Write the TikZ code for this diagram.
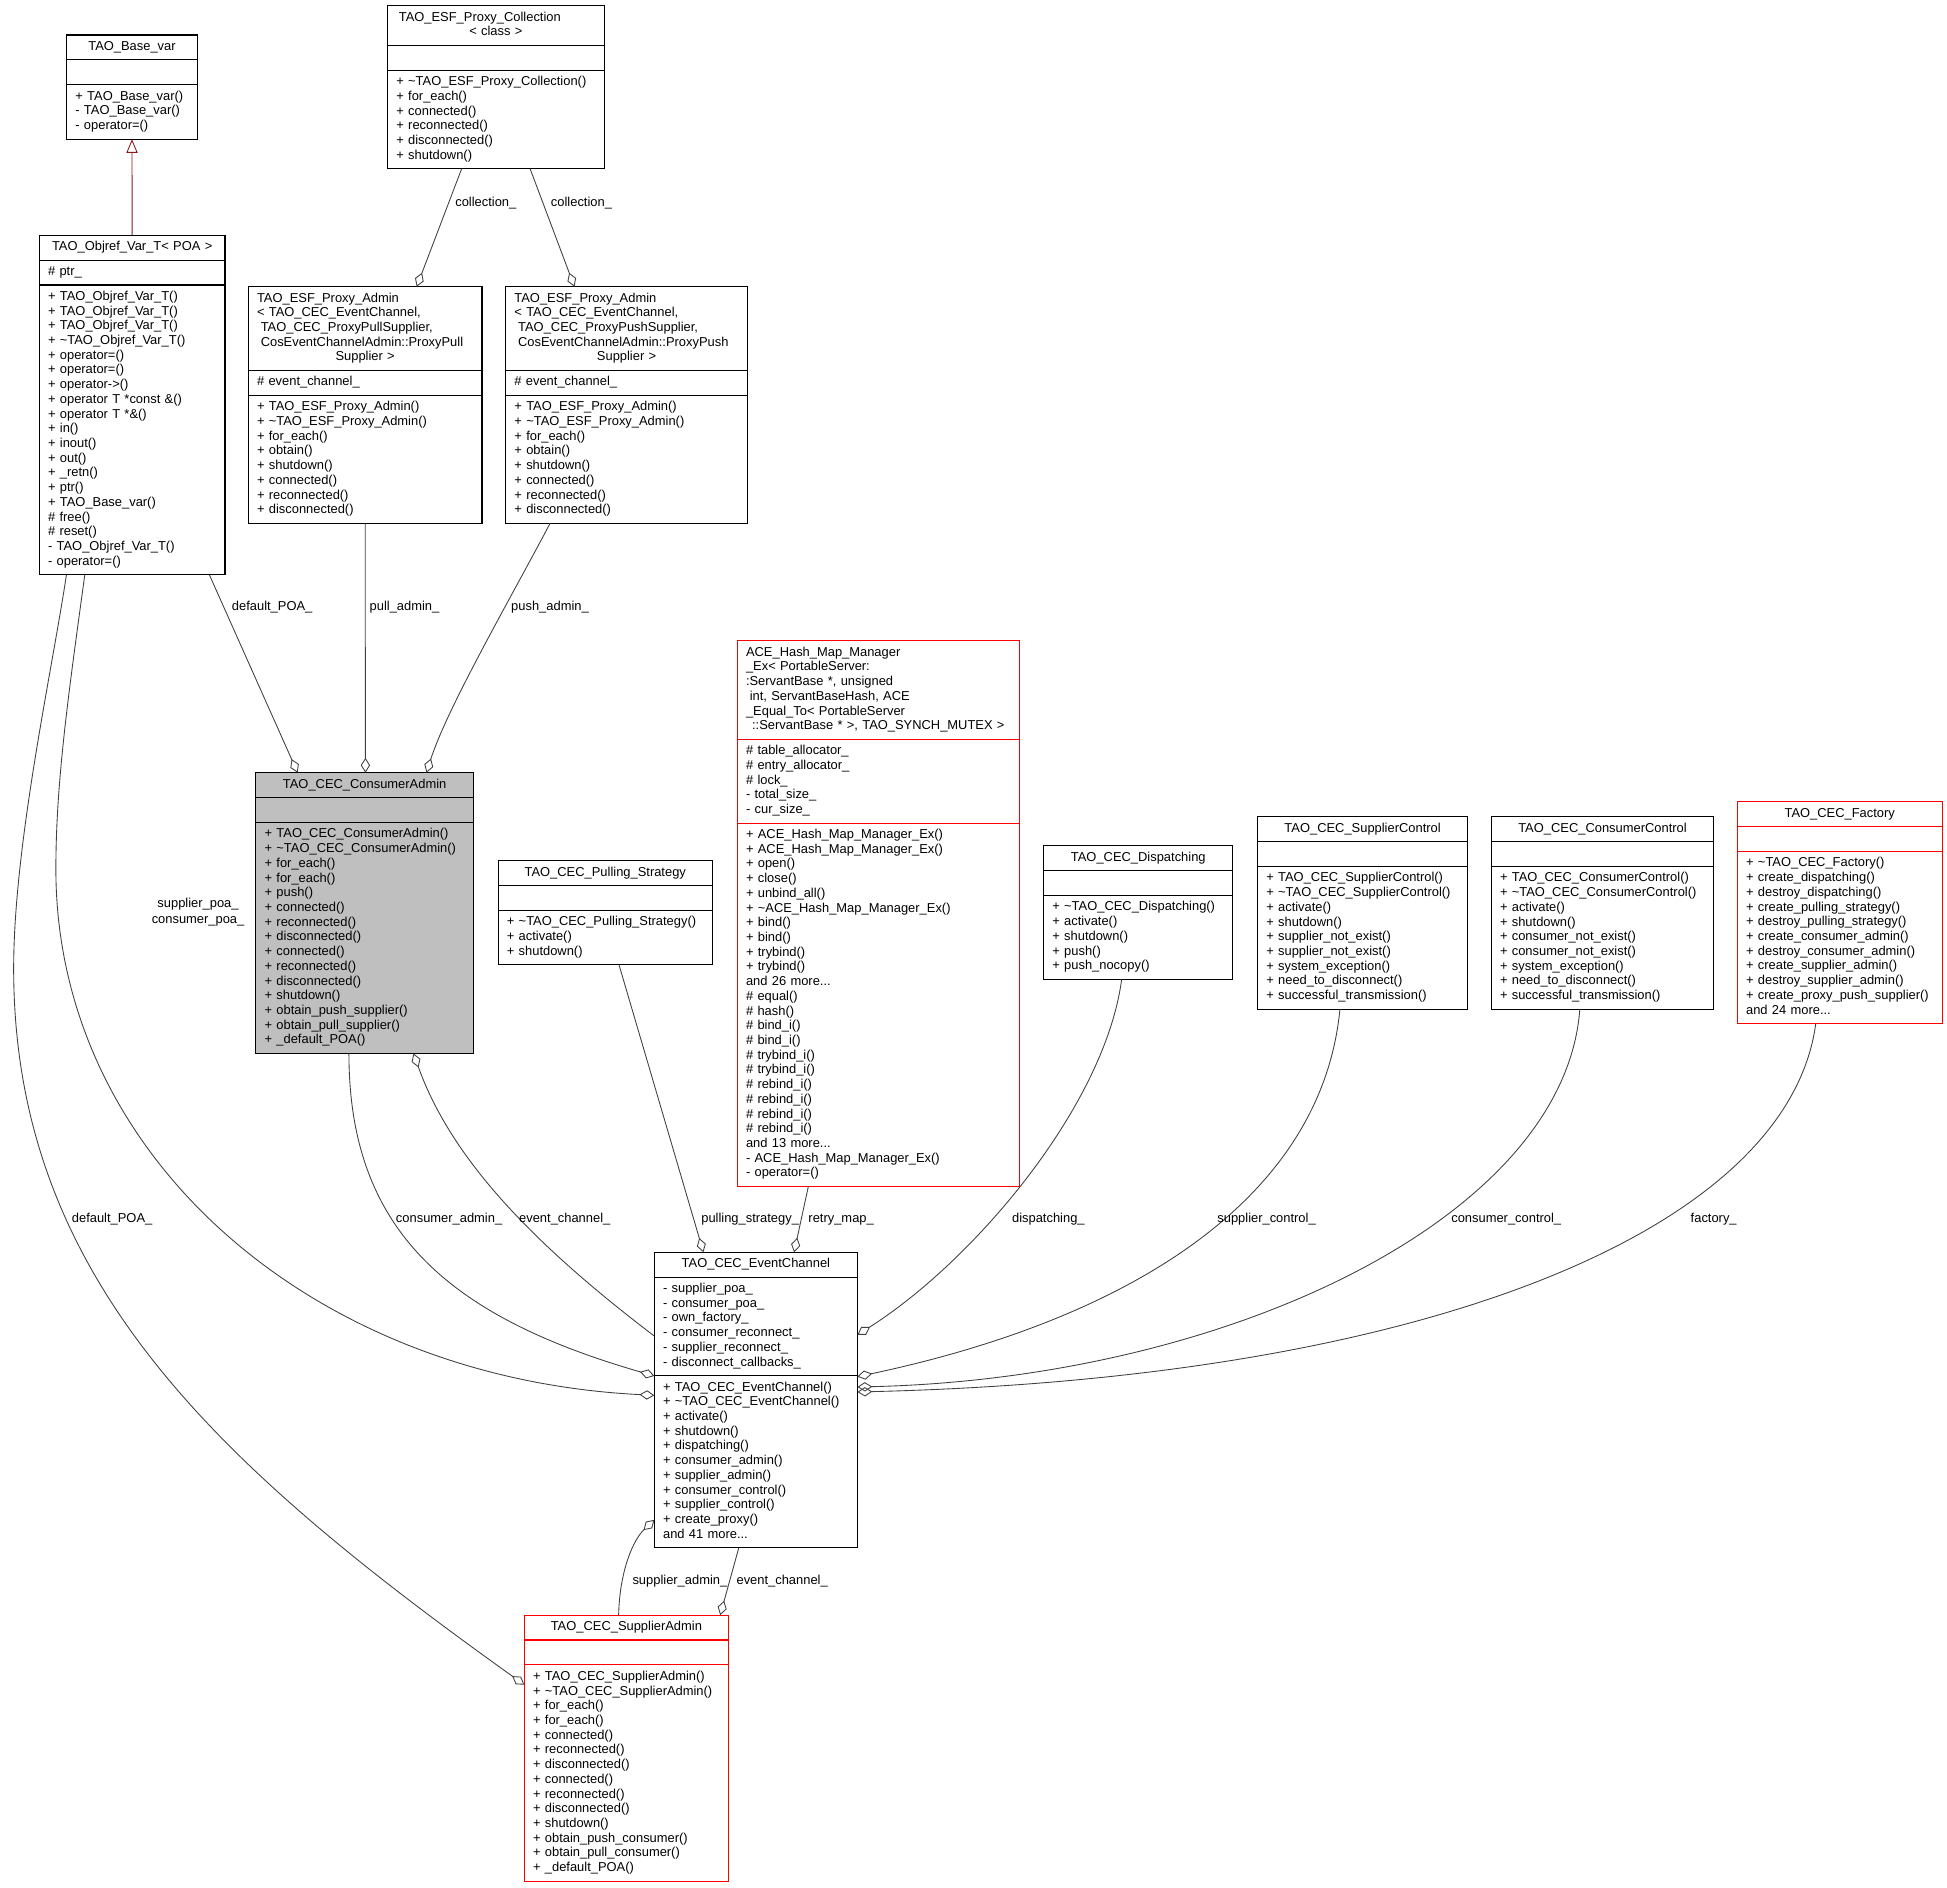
\documentclass[tikz,border=0pt]{standalone}
\usepackage{fontspec}
\setmainfont{Liberation Sans}
\usetikzlibrary{positioning,arrows.meta}
\definecolor{edgegrey}{HTML}{404040}
\definecolor{inhred}{HTML}{8B1A1A}
\begin{document}
\begin{tikzpicture}[x=1pt,y=-1pt,
        every node/.style={font=\fontsize{10.4}{11.85}\selectfont},
        cname/.style={draw,line width=0.9pt,align=center,inner xsep=7pt,inner ysep=4.1pt,
                      outer sep=0pt,execute at begin node=\strut,execute at end node=\strut},
        cpart/.style={cname,align=left},
        redbox/.style={draw=red},
        focus/.style={fill=black!25},
        member/.style={edgegrey,line width=0.7pt,-{Diamond[open,length=12pt,width=7.5pt]}},
        inherit/.style={inhred,line width=0.7pt,-{Triangle[open,length=11pt,width=9pt]}},
        lbl/.style={anchor=base west,inner sep=0pt}]
    \useasboundingbox (0,0) rectangle (1568,1520);

    % Define classes
    \node[cname,text width=91.2pt,anchor=north west] (basevar) at (53.7,28.2) {TAO\_Base\_var};
    \node[cpart,text width=91.2pt,below=0pt of basevar] (basevar-a) {};
    \node[cpart,text width=91.2pt,below=0pt of basevar-a] (basevar-m)
        {+ TAO\_Base\_var()\\- TAO\_Base\_var()\\- operator=()};

    \node[cname,text width=135.5pt,anchor=north west] (objref) at (31.7,189.4) {TAO\_Objref\_Var\_T< POA >};
    \node[cpart,text width=135.5pt,below=0pt of objref] (objref-a) {\# ptr\_};
    \node[cpart,text width=135.5pt,below=0pt of objref-a] (objref-m)
        {+ TAO\_Objref\_Var\_T()\\+ TAO\_Objref\_Var\_T()\\+ TAO\_Objref\_Var\_T()\\
         + \textasciitilde TAO\_Objref\_Var\_T()\\+ operator=()\\+ operator=()\\
         + operator->()\\+ operator T *const \&()\\+ operator T *\&()\\+ in()\\
         + inout()\\+ out()\\+ \_retn()\\+ ptr()\\+ TAO\_Base\_var()\\\# free()\\
         \# reset()\\- TAO\_Objref\_Var\_T()\\- operator=()};

    \node[cpart,text width=160.3pt,anchor=north west] (coll) at (312.2,4.6)
        {\hspace*{2pt}TAO\_ESF\_Proxy\_Collection\\\makebox[\linewidth]{< class >}};
    \node[cpart,text width=160.3pt,below=0pt of coll] (coll-a) {};
    \node[cpart,text width=160.3pt,below=0pt of coll-a] (coll-m)
        {+ \textasciitilde TAO\_ESF\_Proxy\_Collection()\\+ for\_each()\\+ connected()\\
         + reconnected()\\+ disconnected()\\+ shutdown()};

    \node[cpart,text width=174.2pt,anchor=north west] (pulladm) at (200,230.9)
        {TAO\_ESF\_Proxy\_Admin\\< TAO\_CEC\_EventChannel,\\\hspace*{3pt}TAO\_CEC\_ProxyPullSupplier,\\
         \hspace*{3pt}CosEventChannelAdmin::ProxyPull\\\makebox[\linewidth]{Supplier >}};
    \node[cpart,text width=174.2pt,below=0pt of pulladm] (pulladm-a) {\# event\_channel\_};
    \node[cpart,text width=174.2pt,below=0pt of pulladm-a] (pulladm-m)
        {+ TAO\_ESF\_Proxy\_Admin()\\+ \textasciitilde TAO\_ESF\_Proxy\_Admin()\\+ for\_each()\\
         + obtain()\\+ shutdown()\\+ connected()\\+ reconnected()\\+ disconnected()};

    \node[cpart,text width=180.6pt,anchor=north west] (pushadm) at (407.3,230.9)
        {TAO\_ESF\_Proxy\_Admin\\< TAO\_CEC\_EventChannel,\\\hspace*{3pt}TAO\_CEC\_ProxyPushSupplier,\\
         \hspace*{3pt}CosEventChannelAdmin::ProxyPush\\\makebox[\linewidth]{Supplier >}};
    \node[cpart,text width=180.6pt,below=0pt of pushadm] (pushadm-a) {\# event\_channel\_};
    \node[cpart,text width=180.6pt,below=0pt of pushadm-a] (pushadm-m)
        {+ TAO\_ESF\_Proxy\_Admin()\\+ \textasciitilde TAO\_ESF\_Proxy\_Admin()\\+ for\_each()\\
         + obtain()\\+ shutdown()\\+ connected()\\+ reconnected()\\+ disconnected()};

    \node[cname,focus,text width=161.1pt,anchor=north west] (conadm) at (206.1,622.3) {TAO\_CEC\_ConsumerAdmin};
    \node[cpart,focus,text width=161.1pt,below=0pt of conadm] (conadm-a) {};
    \node[cpart,focus,text width=161.1pt,below=0pt of conadm-a] (conadm-m)
        {+ TAO\_CEC\_ConsumerAdmin()\\+ \textasciitilde TAO\_CEC\_ConsumerAdmin()\\+ for\_each()\\
         + for\_each()\\+ push()\\+ connected()\\+ reconnected()\\+ disconnected()\\
         + connected()\\+ reconnected()\\+ disconnected()\\+ shutdown()\\
         + obtain\_push\_supplier()\\+ obtain\_pull\_supplier()\\+ \_default\_POA()};

    \node[cpart,redbox,text width=213.1pt,anchor=north west] (hashmap) at (593.8,516.1)
        {ACE\_Hash\_Map\_Manager\\\_Ex< PortableServer:\\:ServantBase *, unsigned\\
         \hspace*{3pt}int, ServantBaseHash, ACE\\\_Equal\_To< PortableServer\\
         \makebox[\linewidth]{::ServantBase * >, TAO\_SYNCH\_MUTEX >}};
    \node[cpart,redbox,text width=213.1pt,below=0pt of hashmap] (hashmap-a)
        {\# table\_allocator\_\\\# entry\_allocator\_\\\# lock\_\\- total\_size\_\\- cur\_size\_};
    \node[cpart,redbox,text width=213.1pt,below=0pt of hashmap-a] (hashmap-m)
        {+ ACE\_Hash\_Map\_Manager\_Ex()\\+ ACE\_Hash\_Map\_Manager\_Ex()\\+ open()\\+ close()\\
         + unbind\_all()\\+ \textasciitilde ACE\_Hash\_Map\_Manager\_Ex()\\+ bind()\\+ bind()\\
         + trybind()\\+ trybind()\\and 26 more...\\\# equal()\\\# hash()\\\# bind\_i()\\
         \# bind\_i()\\\# trybind\_i()\\\# trybind\_i()\\\# rebind\_i()\\\# rebind\_i()\\
         \# rebind\_i()\\\# rebind\_i()\\and 13 more...\\- ACE\_Hash\_Map\_Manager\_Ex()\\
         - operator=()};

    \node[cname,text width=158.5pt,anchor=north west] (pulling) at (401.2,693.1) {TAO\_CEC\_Pulling\_Strategy};
    \node[cpart,text width=158.5pt,below=0pt of pulling] (pulling-a) {};
    \node[cpart,text width=158.5pt,below=0pt of pulling-a] (pulling-m)
        {+ \textasciitilde TAO\_CEC\_Pulling\_Strategy()\\+ activate()\\+ shutdown()};

    \node[cname,text width=138.4pt,anchor=north west] (dispatch) at (840.5,681.1) {TAO\_CEC\_Dispatching};
    \node[cpart,text width=138.4pt,below=0pt of dispatch] (dispatch-a) {};
    \node[cpart,text width=138.4pt,below=0pt of dispatch-a] (dispatch-m)
        {+ \textasciitilde TAO\_CEC\_Dispatching()\\+ activate()\\+ shutdown()\\+ push()\\
         + push\_nocopy()};

    \node[cname,text width=155.1pt,anchor=north west] (supctl) at (1012.8,657.7) {TAO\_CEC\_SupplierControl};
    \node[cpart,text width=155.1pt,below=0pt of supctl] (supctl-a) {};
    \node[cpart,text width=155.1pt,below=0pt of supctl-a] (supctl-m)
        {+ TAO\_CEC\_SupplierControl()\\+ \textasciitilde TAO\_CEC\_SupplierControl()\\
         + activate()\\+ shutdown()\\+ supplier\_not\_exist()\\+ supplier\_not\_exist()\\
         + system\_exception()\\+ need\_to\_disconnect()\\+ successful\_transmission()};

    \node[cname,text width=165.1pt,anchor=north west] (conctl) at (1201,657.7) {TAO\_CEC\_ConsumerControl};
    \node[cpart,text width=165.1pt,below=0pt of conctl] (conctl-a) {};
    \node[cpart,text width=165.1pt,below=0pt of conctl-a] (conctl-m)
        {+ TAO\_CEC\_ConsumerControl()\\+ \textasciitilde TAO\_CEC\_ConsumerControl()\\
         + activate()\\+ shutdown()\\+ consumer\_not\_exist()\\+ consumer\_not\_exist()\\
         + system\_exception()\\+ need\_to\_disconnect()\\+ successful\_transmission()};

    \node[cname,redbox,text width=150.8pt,anchor=north west] (factory) at (1399.2,645.7) {TAO\_CEC\_Factory};
    \node[cpart,redbox,text width=150.8pt,below=0pt of factory] (factory-a) {};
    \node[cpart,redbox,text width=150.8pt,below=0pt of factory-a] (factory-m)
        {+ \textasciitilde TAO\_CEC\_Factory()\\+ create\_dispatching()\\+ destroy\_dispatching()\\
         + create\_pulling\_strategy()\\+ destroy\_pulling\_strategy()\\
         + create\_consumer\_admin()\\+ destroy\_consumer\_admin()\\
         + create\_supplier\_admin()\\+ destroy\_supplier\_admin()\\
         + create\_proxy\_push\_supplier()\\and 24 more...};

    \node[cname,text width=149.5pt,anchor=north west] (evch) at (527,1008.5) {TAO\_CEC\_EventChannel};
    \node[cpart,text width=149.5pt,below=0pt of evch] (evch-a)
        {- supplier\_poa\_\\- consumer\_poa\_\\- own\_factory\_\\- consumer\_reconnect\_\\
         - supplier\_reconnect\_\\- disconnect\_callbacks\_};
    \node[cpart,text width=149.5pt,below=0pt of evch-a] (evch-m)
        {+ TAO\_CEC\_EventChannel()\\+ \textasciitilde TAO\_CEC\_EventChannel()\\+ activate()\\
         + shutdown()\\+ dispatching()\\+ consumer\_admin()\\+ supplier\_admin()\\
         + consumer\_control()\\+ supplier\_control()\\+ create\_proxy()\\and 41 more...};

    \node[cname,redbox,text width=150.3pt,anchor=north west] (supadm) at (422.3,1300.7) {TAO\_CEC\_SupplierAdmin};
    \node[cpart,redbox,text width=150.3pt,below=0pt of supadm] (supadm-a) {};
    \node[cpart,redbox,text width=150.3pt,below=0pt of supadm-a] (supadm-m)
        {+ TAO\_CEC\_SupplierAdmin()\\+ \textasciitilde TAO\_CEC\_SupplierAdmin()\\+ for\_each()\\
         + for\_each()\\+ connected()\\+ reconnected()\\+ disconnected()\\+ connected()\\
         + reconnected()\\+ disconnected()\\+ shutdown()\\+ obtain\_push\_consumer()\\
         + obtain\_pull\_consumer()\\+ \_default\_POA()};

    % Connect classes
    \draw[inherit] (objref.north) -- (basevar-m.south);
    \draw[member] ([xshift=59.6pt]coll-m.south west) -- ([xshift=135.6pt]pulladm.north west);
    \draw[member] ([xshift=114.7pt]coll-m.south west) -- ([xshift=55.3pt]pushadm.north west);
    \draw[member] ([xshift=136.9pt]objref-m.south west) -- ([xshift=33.6pt]conadm.north west);
    \draw[member] (pulladm-m.south) -- ([xshift=88.2pt]conadm.north west);
    \draw[member] ([xshift=35.7pt]pushadm-m.south west) .. controls (415,475) and (360,570) .. ([xshift=137.4pt]conadm.north west);
    \draw[member] ([xshift=36.6pt]objref-m.south west) .. controls (55,560) and (45,630) .. (45,700)
        .. controls (45,930) and (250,1110) .. ([yshift=-115.2pt]evch.north west);
    \draw[member] ([xshift=21.8pt]objref-m.south west) .. controls (42,540) and (11,680) .. (11,780)
        .. controls (11,1030) and (175,1180) .. ([yshift=-56.1pt]supadm.north west);
    \draw[member] ([xshift=74.9pt]conadm-m.south west) .. controls (281,990) and (360,1060) .. ([yshift=-99.6pt]evch.north west);
    \draw[member] ([yshift=-67.5pt]evch.north west) .. controls (427,1000) and (363,932) .. ([xshift=126.9pt]conadm-m.south west);
    \draw[member] ([xshift=97.3pt]pulling-m.south west) -- ([xshift=39.5pt]evch.north west);
    \draw[member] ([xshift=57.2pt]hashmap-m.south west) -- ([xshift=112.5pt]evch.north west);
    \draw[member] ([xshift=62.8pt]dispatch-m.south west) .. controls (890,890) and (785,1015) .. ([yshift=-66.5pt]evch.north east);
    \draw[member] ([xshift=66.3pt]supctl-m.south west) .. controls (1065,960) and (920,1060) .. ([yshift=-100.2pt]evch.north east);
    \draw[member] ([xshift=71.3pt]conctl-m.south west) .. controls (1260,980) and (990,1110) .. ([yshift=-108.5pt]evch.north east);
    \draw[member] ([xshift=63.1pt]factory-m.south west) .. controls (1440,990) and (1150,1110) .. ([yshift=-112.5pt]evch.north east);
    \draw[member] ([xshift=75.9pt]supadm.north west) .. controls (499,1265) and (510,1240) .. ([yshift=-215.5pt]evch.north west);
    \draw[member] ([xshift=68pt]evch-m.south west) -- ([xshift=157.7pt]supadm.north west);

    % Edge labels
    \node[lbl] (lcoll1) at (366.5,166.1) {collection\_};
    \node[lbl] (lcoll2) at (443.5,166.1) {collection\_};
    \node[lbl] (lpoa1) at (186.6,492) {default\_POA\_};
    \node[lbl] (lpull) at (297.5,492) {pull\_admin\_};
    \node[lbl] (lpush) at (411.5,492) {push\_admin\_};
    \node[align=center,inner sep=0pt,font=\fontsize{10.4}{12.3}\selectfont] (lpoas) at (159.5,734.6)
        {supplier\_poa\_\\consumer\_poa\_};
    \node[lbl] (lpoa2) at (57.7,984.6) {default\_POA\_};
    \node[lbl] (lcadm) at (318.7,984.6) {consumer\_admin\_};
    \node[lbl] (levch1) at (417.9,984.6) {event\_channel\_};
    \node[lbl] (lpulls) at (564.6,984.6) {pulling\_strategy\_};
    \node[lbl] (lretry) at (650.9,984.6) {retry\_map\_};
    \node[lbl] (ldisp) at (814.9,984.6) {dispatching\_};
    \node[lbl] (lsupctl) at (980.2,984.6) {supplier\_control\_};
    \node[lbl] (lconctl) at (1168.6,984.6) {consumer\_control\_};
    \node[lbl] (lfact) at (1361.4,984.6) {factory\_};
    \node[lbl] (lsadm) at (509.2,1276.3) {supplier\_admin\_};
    \node[lbl] (levch2) at (593,1276.3) {event\_channel\_};
\end{tikzpicture}
\end{document}
